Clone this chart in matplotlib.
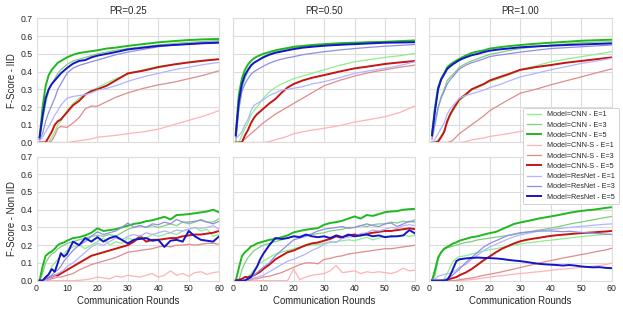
import matplotlib
matplotlib.use("Agg")
import matplotlib.pyplot as plt

plt.rcParams['font.family'] = ['Liberation Sans', 'DejaVu Sans']

# ---------------- data ----------------
ROUNDS_IID = [1, 2, 3, 4, 5, 6, 7, 8, 10, 12, 14, 16, 18, 20, 23, 26, 30, 35, 40, 45, 50, 55, 60]
ROUNDS_NIID = [1, 2, 3, 4, 5, 6, 7, 8, 9, 10] + list(range(12, 61, 2))

PR_TITLES = ["PR=0.25", "PR=0.50", "PR=1.00"]
ROW_LABELS = ["F-Score - IID", "F-Score - Non IID"]
SERIES_LABELS = ["Model=CNN - E=1", "Model=CNN - E=3", "Model=CNN - E=5",
                 "Model=CNN-S - E=1", "Model=CNN-S - E=3", "Model=CNN-S - E=5",
                 "Model=ResNet - E=1", "Model=ResNet - E=3", "Model=ResNet - E=5"]
X_TICKS = [0, 10, 20, 30, 40, 50, 60]
Y_TICKS = [0.0, 0.1, 0.2, 0.3, 0.4, 0.5, 0.6, 0.7]

# IID, PR=0.25
iid25_cnn_e1 = [0, 0, 0, 0, 0.03, 0.06, 0.1, 0.12, 0.18, 0.22, 0.25, 0.275, 0.29, 0.31, 0.335, 0.36, 0.385, 0.41, 0.43, 0.44, 0.45, 0.46, 0.47]
iid25_cnn_e3 = [0.02, 0.12, 0.22, 0.29, 0.33, 0.36, 0.39, 0.41, 0.44, 0.46, 0.47, 0.48, 0.49, 0.50, 0.51, 0.52, 0.53, 0.54, 0.55, 0.558, 0.565, 0.57, 0.575]
iid25_cnn_e5 = [0.02, 0.2, 0.32, 0.38, 0.41, 0.43, 0.45, 0.46, 0.48, 0.495, 0.505, 0.51, 0.515, 0.52, 0.53, 0.535, 0.545, 0.555, 0.565, 0.572, 0.578, 0.582, 0.584]
iid25_cnns_e1 = [0, 0, 0, 0, 0, 0, 0, 0, 0, 0.005, 0.01, 0.015, 0.02, 0.03, 0.035, 0.04, 0.05, 0.06, 0.075, 0.1, 0.125, 0.15, 0.18]
iid25_cnns_e3 = [0, 0, 0, 0, 0.01, 0.04, 0.08, 0.09, 0.085, 0.11, 0.14, 0.19, 0.205, 0.205, 0.23, 0.255, 0.28, 0.305, 0.325, 0.34, 0.36, 0.38, 0.405]
iid25_cnns_e5 = [0, 0, 0, 0.03, 0.06, 0.1, 0.12, 0.13, 0.17, 0.21, 0.235, 0.27, 0.29, 0.3, 0.32, 0.35, 0.39, 0.405, 0.425, 0.44, 0.452, 0.462, 0.47]
iid25_res_e1 = [0.01, 0.03, 0.06, 0.09, 0.12, 0.155, 0.18, 0.21, 0.25, 0.26, 0.265, 0.27, 0.28, 0.295, 0.305, 0.32, 0.345, 0.37, 0.39, 0.41, 0.425, 0.44, 0.452]
iid25_res_e3 = [0.02, 0.05, 0.12, 0.17, 0.21, 0.25, 0.3, 0.33, 0.39, 0.42, 0.435, 0.445, 0.455, 0.465, 0.48, 0.495, 0.51, 0.525, 0.54, 0.55, 0.558, 0.565, 0.568]
iid25_res_e5 = [0.03, 0.15, 0.25, 0.3, 0.33, 0.35, 0.37, 0.39, 0.42, 0.445, 0.46, 0.465, 0.48, 0.49, 0.5, 0.51, 0.525, 0.535, 0.545, 0.55, 0.555, 0.56, 0.563]

# IID, PR=0.50
iid50_cnn_e1 = [0, 0, 0.04, 0.08, 0.11, 0.156, 0.18, 0.2, 0.25, 0.285, 0.31, 0.33, 0.345, 0.36, 0.375, 0.39, 0.41, 0.435, 0.455, 0.468, 0.48, 0.49, 0.503]
iid50_cnn_e3 = [0.0, 0.19, 0.3, 0.36, 0.4, 0.43, 0.45, 0.46, 0.485, 0.5, 0.51, 0.52, 0.528, 0.535, 0.542, 0.548, 0.553, 0.558, 0.562, 0.565, 0.567, 0.57, 0.572]
iid50_cnn_e5 = [0.05, 0.27, 0.36, 0.41, 0.44, 0.46, 0.475, 0.485, 0.5, 0.51, 0.52, 0.527, 0.533, 0.54, 0.545, 0.55, 0.555, 0.56, 0.563, 0.566, 0.568, 0.572, 0.576]
iid50_cnns_e1 = [0, 0, 0, 0, 0, 0, 0, 0, 0, 0.005, 0.015, 0.025, 0.035, 0.05, 0.06, 0.07, 0.08, 0.095, 0.115, 0.13, 0.146, 0.17, 0.208]
iid50_cnns_e3 = [0, 0, 0.005, 0.02, 0.035, 0.05, 0.065, 0.08, 0.11, 0.135, 0.16, 0.18, 0.2, 0.22, 0.25, 0.28, 0.32, 0.35, 0.375, 0.395, 0.41, 0.425, 0.437]
iid50_cnns_e5 = [0, 0, 0, 0.04, 0.07, 0.11, 0.14, 0.16, 0.19, 0.22, 0.245, 0.28, 0.31, 0.33, 0.35, 0.365, 0.38, 0.4, 0.418, 0.43, 0.443, 0.452, 0.46]
iid50_res_e1 = [0.02, 0.04, 0.06, 0.1, 0.13, 0.18, 0.21, 0.22, 0.24, 0.265, 0.28, 0.295, 0.3, 0.306, 0.315, 0.33, 0.343, 0.365, 0.39, 0.405, 0.418, 0.435, 0.456]
iid50_res_e3 = [0.03, 0.19, 0.287, 0.33, 0.36, 0.385, 0.4, 0.41, 0.43, 0.447, 0.46, 0.47, 0.478, 0.484, 0.495, 0.503, 0.512, 0.522, 0.53, 0.537, 0.543, 0.548, 0.553]
iid50_res_e5 = [0.04, 0.23, 0.33, 0.38, 0.41, 0.435, 0.45, 0.46, 0.48, 0.495, 0.506, 0.513, 0.52, 0.527, 0.535, 0.54, 0.546, 0.551, 0.555, 0.559, 0.563, 0.564, 0.566]

# IID, PR=1.00
iid100_cnn_e1 = [0, 0, 0.015, 0.04, 0.07, 0.11, 0.15, 0.18, 0.235, 0.265, 0.295, 0.31, 0.325, 0.343, 0.36, 0.38, 0.41, 0.432, 0.455, 0.47, 0.484, 0.498, 0.512]
iid100_cnn_e3 = [0.02, 0.1, 0.19, 0.26, 0.3, 0.35, 0.37, 0.385, 0.425, 0.445, 0.46, 0.472, 0.485, 0.497, 0.507, 0.518, 0.53, 0.54, 0.55, 0.556, 0.563, 0.566, 0.568]
iid100_cnn_e5 = [0.05, 0.2, 0.31, 0.36, 0.39, 0.425, 0.44, 0.452, 0.472, 0.49, 0.505, 0.513, 0.52, 0.53, 0.537, 0.543, 0.55, 0.557, 0.563, 0.568, 0.574, 0.577, 0.58]
iid100_cnns_e1 = [0, 0, 0, 0, 0, 0, 0, 0, 0, 0.005, 0.015, 0.02, 0.025, 0.034, 0.042, 0.05, 0.062, 0.076, 0.09, 0.104, 0.118, 0.135, 0.155]
iid100_cnns_e3 = [0, 0, 0, 0, 0, 0, 0.005, 0.015, 0.05, 0.075, 0.1, 0.125, 0.15, 0.18, 0.21, 0.24, 0.278, 0.3, 0.325, 0.348, 0.37, 0.393, 0.415]
iid100_cnns_e5 = [0, 0, 0.005, 0.03, 0.06, 0.12, 0.16, 0.19, 0.245, 0.27, 0.3, 0.315, 0.33, 0.35, 0.368, 0.385, 0.41, 0.425, 0.437, 0.45, 0.46, 0.47, 0.48]
iid100_res_e1 = [0.0, 0.02, 0.05, 0.08, 0.11, 0.16, 0.19, 0.21, 0.25, 0.265, 0.275, 0.285, 0.295, 0.31, 0.325, 0.345, 0.37, 0.39, 0.41, 0.428, 0.446, 0.46, 0.475]
iid100_res_e3 = [0.02, 0.11, 0.2, 0.25, 0.29, 0.33, 0.355, 0.375, 0.415, 0.435, 0.45, 0.46, 0.472, 0.485, 0.493, 0.5, 0.51, 0.52, 0.53, 0.535, 0.54, 0.545, 0.55]
iid100_res_e5 = [0.04, 0.18, 0.3, 0.355, 0.385, 0.415, 0.43, 0.443, 0.465, 0.48, 0.492, 0.5, 0.51, 0.518, 0.525, 0.53, 0.537, 0.542, 0.546, 0.55, 0.553, 0.556, 0.559]

# Non IID, PR=0.25
niid25_cnn_e1 = [0, 0, 0.01, 0.04, 0.08, 0.1, 0.12, 0.14, 0.15, 0.17, 0.19, 0.2, 0.18, 0.2, 0.22, 0.24, 0.2, 0.22, 0.21, 0.24, 0.23, 0.25, 0.24, 0.26, 0.25, 0.26, 0.27, 0.26, 0.28, 0.29, 0.3, 0.28, 0.29, 0.25, 0.26]
niid25_cnn_e3 = [0, 0.04, 0.1, 0.13, 0.15, 0.16, 0.18, 0.19, 0.2, 0.21, 0.22, 0.23, 0.24, 0.25, 0.255, 0.25, 0.26, 0.25, 0.27, 0.29, 0.3, 0.31, 0.3, 0.31, 0.3, 0.31, 0.32, 0.31, 0.33, 0.32, 0.33, 0.345, 0.33, 0.33, 0.35]
niid25_cnn_e5 = [0, 0.08, 0.14, 0.155, 0.165, 0.18, 0.2, 0.21, 0.215, 0.225, 0.24, 0.245, 0.255, 0.27, 0.295, 0.28, 0.285, 0.29, 0.3, 0.31, 0.32, 0.325, 0.335, 0.34, 0.35, 0.36, 0.345, 0.37, 0.372, 0.375, 0.38, 0.385, 0.39, 0.4, 0.385]
niid25_cnns_e1 = [0, 0, 0, 0, 0, 0, 0, 0, 0, 0, 0, 0.002, 0.005, 0.01, 0.02, 0.015, 0.01, 0.025, 0.02, 0.03, 0.025, 0.02, 0.03, 0.04, 0.02, 0.03, 0.055, 0.03, 0.04, 0.025, 0.045, 0.05, 0.035, 0.045, 0.05]
niid25_cnns_e3 = [0, 0, 0, 0.005, 0.01, 0.015, 0.02, 0.02, 0.025, 0.03, 0.04, 0.06, 0.075, 0.09, 0.1, 0.11, 0.12, 0.13, 0.145, 0.16, 0.165, 0.17, 0.175, 0.18, 0.19, 0.195, 0.19, 0.2, 0.2, 0.205, 0.2, 0.205, 0.21, 0.21, 0.205]
niid25_cnns_e5 = [0, 0, 0.01, 0.015, 0.02, 0.03, 0.03, 0.04, 0.05, 0.06, 0.08, 0.1, 0.12, 0.14, 0.15, 0.16, 0.17, 0.18, 0.19, 0.2, 0.22, 0.25, 0.22, 0.23, 0.23, 0.235, 0.24, 0.24, 0.25, 0.255, 0.26, 0.26, 0.265, 0.27, 0.28]
niid25_res_e1 = [0, 0, 0, 0.01, 0.02, 0.03, 0.04, 0.05, 0.06, 0.08, 0.1, 0.13, 0.16, 0.19, 0.21, 0.2, 0.22, 0.24, 0.23, 0.25, 0.26, 0.25, 0.27, 0.26, 0.27, 0.28, 0.27, 0.285, 0.28, 0.29, 0.3, 0.295, 0.3, 0.31, 0.29]
niid25_res_e3 = [0, 0, 0.01, 0.02, 0.03, 0.05, 0.06, 0.08, 0.11, 0.13, 0.17, 0.2, 0.22, 0.25, 0.275, 0.26, 0.27, 0.28, 0.3, 0.325, 0.3, 0.31, 0.3, 0.32, 0.315, 0.33, 0.32, 0.345, 0.33, 0.33, 0.335, 0.34, 0.33, 0.32, 0.335]
niid25_res_e5 = [0, 0, 0.02, 0.035, 0.065, 0.05, 0.1, 0.155, 0.135, 0.15, 0.22, 0.2, 0.24, 0.22, 0.245, 0.22, 0.24, 0.25, 0.23, 0.21, 0.23, 0.235, 0.24, 0.225, 0.23, 0.19, 0.225, 0.23, 0.22, 0.28, 0.25, 0.23, 0.225, 0.22, 0.25]

# Non IID, PR=0.50
niid50_cnn_e1 = [0, 0, 0, 0.005, 0.02, 0.04, 0.06, 0.08, 0.1, 0.11, 0.13, 0.15, 0.16, 0.17, 0.18, 0.19, 0.195, 0.2, 0.205, 0.21, 0.215, 0.22, 0.225, 0.23, 0.225, 0.235, 0.245, 0.23, 0.24, 0.25, 0.245, 0.25, 0.255, 0.25, 0.255]
niid50_cnn_e3 = [0, 0, 0.06, 0.1, 0.13, 0.15, 0.17, 0.18, 0.19, 0.2, 0.21, 0.22, 0.23, 0.24, 0.25, 0.25, 0.255, 0.26, 0.265, 0.27, 0.28, 0.285, 0.29, 0.3, 0.3, 0.31, 0.305, 0.315, 0.32, 0.32, 0.33, 0.325, 0.335, 0.33, 0.345]
niid50_cnn_e5 = [0, 0.07, 0.137, 0.16, 0.175, 0.193, 0.2, 0.21, 0.215, 0.22, 0.23, 0.235, 0.245, 0.255, 0.272, 0.28, 0.287, 0.292, 0.296, 0.315, 0.325, 0.33, 0.338, 0.35, 0.362, 0.35, 0.37, 0.365, 0.375, 0.386, 0.39, 0.392, 0.4, 0.403, 0.405]
niid50_cnns_e1 = [0, 0, 0, 0, 0, 0, 0, 0, 0, 0, 0, 0, 0, 0, 0.065, 0.005, 0.02, 0.03, 0.035, 0.04, 0.055, 0.085, 0.045, 0.05, 0.055, 0.04, 0.05, 0.045, 0.05, 0.045, 0.04, 0.05, 0.07, 0.055, 0.06]
niid50_cnns_e3 = [0, 0, 0, 0, 0, 0.005, 0.01, 0.01, 0.015, 0.02, 0.025, 0.035, 0.045, 0.06, 0.075, 0.09, 0.1, 0.1, 0.095, 0.12, 0.125, 0.135, 0.14, 0.15, 0.155, 0.16, 0.165, 0.17, 0.175, 0.18, 0.18, 0.185, 0.19, 0.195, 0.2]
niid50_cnns_e5 = [0, 0.005, 0.01, 0.02, 0.02, 0.025, 0.03, 0.04, 0.05, 0.065, 0.09, 0.12, 0.14, 0.16, 0.17, 0.185, 0.2, 0.21, 0.215, 0.225, 0.235, 0.25, 0.24, 0.255, 0.26, 0.255, 0.265, 0.27, 0.275, 0.28, 0.28, 0.285, 0.29, 0.295, 0.29]
niid50_res_e1 = [0, 0, 0, 0, 0.005, 0.01, 0.015, 0.02, 0.025, 0.03, 0.05, 0.07, 0.09, 0.11, 0.12, 0.135, 0.15, 0.17, 0.185, 0.205, 0.22, 0.215, 0.24, 0.245, 0.25, 0.265, 0.27, 0.285, 0.28, 0.29, 0.3, 0.295, 0.31, 0.315, 0.31]
niid50_res_e3 = [0, 0, 0, 0.005, 0.01, 0.02, 0.03, 0.045, 0.06, 0.075, 0.1, 0.14, 0.17, 0.2, 0.23, 0.24, 0.25, 0.265, 0.28, 0.29, 0.295, 0.3, 0.305, 0.295, 0.3, 0.31, 0.32, 0.31, 0.305, 0.32, 0.325, 0.305, 0.32, 0.335, 0.33]
niid50_res_e5 = [0, 0, 0, 0, 0.01, 0.02, 0.05, 0.08, 0.12, 0.15, 0.2, 0.24, 0.235, 0.24, 0.25, 0.245, 0.26, 0.25, 0.245, 0.25, 0.24, 0.255, 0.245, 0.26, 0.25, 0.255, 0.26, 0.25, 0.255, 0.245, 0.25, 0.25, 0.255, 0.285, 0.265]

# Non IID, PR=1.00
niid100_cnn_e1 = [0, 0, 0, 0, 0.01, 0.04, 0.08, 0.11, 0.125, 0.135, 0.14, 0.15, 0.158, 0.167, 0.175, 0.18, 0.187, 0.195, 0.2, 0.207, 0.212, 0.216, 0.22, 0.225, 0.228, 0.232, 0.236, 0.24, 0.245, 0.248, 0.252, 0.255, 0.258, 0.26, 0.262]
niid100_cnn_e3 = [0, 0.03, 0.12, 0.16, 0.175, 0.185, 0.19, 0.195, 0.2, 0.205, 0.215, 0.22, 0.23, 0.235, 0.24, 0.245, 0.25, 0.255, 0.26, 0.268, 0.272, 0.278, 0.285, 0.29, 0.297, 0.303, 0.31, 0.318, 0.325, 0.33, 0.337, 0.343, 0.35, 0.356, 0.362]
niid100_cnn_e5 = [0, 0.06, 0.13, 0.16, 0.18, 0.19, 0.2, 0.21, 0.215, 0.225, 0.235, 0.245, 0.25, 0.26, 0.268, 0.275, 0.29, 0.305, 0.32, 0.328, 0.335, 0.342, 0.35, 0.356, 0.362, 0.368, 0.375, 0.382, 0.388, 0.393, 0.397, 0.4, 0.405, 0.41, 0.414]
niid100_cnns_e1 = [0, 0, 0, 0, 0, 0, 0, 0, 0, 0, 0.003, 0.006, 0.01, 0.015, 0.02, 0.025, 0.028, 0.032, 0.036, 0.04, 0.043, 0.047, 0.05, 0.054, 0.058, 0.062, 0.065, 0.068, 0.071, 0.075, 0.078, 0.081, 0.085, 0.09, 0.098]
niid100_cnns_e3 = [0, 0, 0, 0, 0, 0, 0, 0, 0.002, 0.005, 0.01, 0.015, 0.022, 0.03, 0.036, 0.043, 0.05, 0.058, 0.066, 0.074, 0.082, 0.09, 0.098, 0.106, 0.113, 0.12, 0.127, 0.134, 0.14, 0.147, 0.153, 0.16, 0.167, 0.173, 0.182]
niid100_cnns_e5 = [0, 0, 0, 0, 0, 0.005, 0.01, 0.015, 0.02, 0.03, 0.045, 0.065, 0.09, 0.115, 0.137, 0.16, 0.18, 0.195, 0.21, 0.222, 0.23, 0.236, 0.241, 0.247, 0.252, 0.256, 0.259, 0.262, 0.265, 0.268, 0.27, 0.272, 0.275, 0.277, 0.28]
niid100_res_e1 = [0, 0.01, 0.025, 0.03, 0.035, 0.04, 0.04, 0.05, 0.06, 0.075, 0.09, 0.12, 0.145, 0.17, 0.19, 0.205, 0.22, 0.235, 0.248, 0.258, 0.265, 0.272, 0.278, 0.283, 0.288, 0.292, 0.296, 0.3, 0.303, 0.306, 0.309, 0.312, 0.315, 0.318, 0.32]
niid100_res_e3 = [0, 0, 0, 0, 0.005, 0.01, 0.02, 0.035, 0.05, 0.065, 0.1, 0.13, 0.16, 0.19, 0.21, 0.225, 0.24, 0.255, 0.263, 0.27, 0.274, 0.277, 0.28, 0.28, 0.28, 0.278, 0.276, 0.278, 0.275, 0.272, 0.27, 0.268, 0.265, 0.262, 0.26]
niid100_res_e5 = [0, 0, 0, 0, 0, 0.005, 0.03, 0.07, 0.11, 0.12, 0.125, 0.128, 0.13, 0.128, 0.127, 0.125, 0.122, 0.117, 0.113, 0.11, 0.105, 0.1, 0.095, 0.092, 0.09, 0.088, 0.085, 0.088, 0.085, 0.08, 0.077, 0.075, 0.076, 0.072, 0.07]

PANELS = [
    [[iid25_cnn_e1, iid25_cnn_e3, iid25_cnn_e5, iid25_cnns_e1, iid25_cnns_e3, iid25_cnns_e5, iid25_res_e1, iid25_res_e3, iid25_res_e5],
     [iid50_cnn_e1, iid50_cnn_e3, iid50_cnn_e5, iid50_cnns_e1, iid50_cnns_e3, iid50_cnns_e5, iid50_res_e1, iid50_res_e3, iid50_res_e5],
     [iid100_cnn_e1, iid100_cnn_e3, iid100_cnn_e5, iid100_cnns_e1, iid100_cnns_e3, iid100_cnns_e5, iid100_res_e1, iid100_res_e3, iid100_res_e5]],
    [[niid25_cnn_e1, niid25_cnn_e3, niid25_cnn_e5, niid25_cnns_e1, niid25_cnns_e3, niid25_cnns_e5, niid25_res_e1, niid25_res_e3, niid25_res_e5],
     [niid50_cnn_e1, niid50_cnn_e3, niid50_cnn_e5, niid50_cnns_e1, niid50_cnns_e3, niid50_cnns_e5, niid50_res_e1, niid50_res_e3, niid50_res_e5],
     [niid100_cnn_e1, niid100_cnn_e3, niid100_cnn_e5, niid100_cnns_e1, niid100_cnns_e3, niid100_cnns_e5, niid100_res_e1, niid100_res_e3, niid100_res_e5]],
]
ROW_ROUNDS = [ROUNDS_IID, ROUNDS_NIID]

# ---------------- style ----------------
COLORS = ['#8cef8c', '#7fcf7f', '#1fb81f',
          '#ffb3b3', '#e08c8c', '#c81414',
          '#b3b3ff', '#8e8ee2', '#1414c8']
WIDTHS = [0.9, 0.9, 1.4, 0.9, 0.9, 1.4, 0.9, 0.9, 1.4]
TEXT = '#262626'
GRID = '#dcdcdc'

fig, axes = plt.subplots(2, 3, figsize=(6.23, 3.12), dpi=100, sharex=True, sharey=True)
fig.subplots_adjust(left=0.0586, right=0.9818, top=0.941, bottom=0.1006,
                    wspace=0.074, hspace=0.113)

handles = []
for r in range(2):
    for c in range(3):
        ax = axes[r][c]
        ax.set_facecolor('white')
        ax.set_axisbelow(True)
        ax.grid(True, color=GRID, linewidth=0.8)
        for s in ax.spines.values():
            s.set_color(GRID)
            s.set_linewidth(0.8)
        for k, vals in enumerate(PANELS[r][c]):
            ln, = ax.plot(ROW_ROUNDS[r], vals, color=COLORS[k], lw=WIDTHS[k],
                          label=SERIES_LABELS[k], solid_joinstyle='round')
            if r == 0 and c == 0:
                handles.append(ln)
        ax.set_xlim(0, 60)
        ax.set_ylim(0, 0.7)
        ax.set_xticks(X_TICKS)
        ax.set_yticks(Y_TICKS)
        ax.tick_params(length=0, pad=2.5, labelsize=6.3, colors=TEXT)
        if r == 0:
            ax.set_title(PR_TITLES[c], fontsize=6.9, color=TEXT, pad=3)
        if r == 1:
            ax.set_xlabel("Communication Rounds", fontsize=6.9, color=TEXT, labelpad=2)
        if c == 0:
            ax.set_ylabel(ROW_LABELS[r], fontsize=6.9, color=TEXT, labelpad=3)
            ax.yaxis.set_major_formatter(matplotlib.ticker.FormatStrFormatter('%.1f'))

leg = fig.legend(handles, SERIES_LABELS, loc='upper right',
                 bbox_to_anchor=(0.993, 0.655), fontsize=5.2,
                 frameon=True, framealpha=1.0, edgecolor='#cccccc',
                 labelspacing=0.45, handlelength=2.0, handletextpad=0.8,
                 borderpad=0.5, borderaxespad=0.0)
for t in leg.get_texts():
    t.set_color(TEXT)
leg.get_frame().set_linewidth(0.6)

fig.savefig("out.png", dpi=100, facecolor='white')
